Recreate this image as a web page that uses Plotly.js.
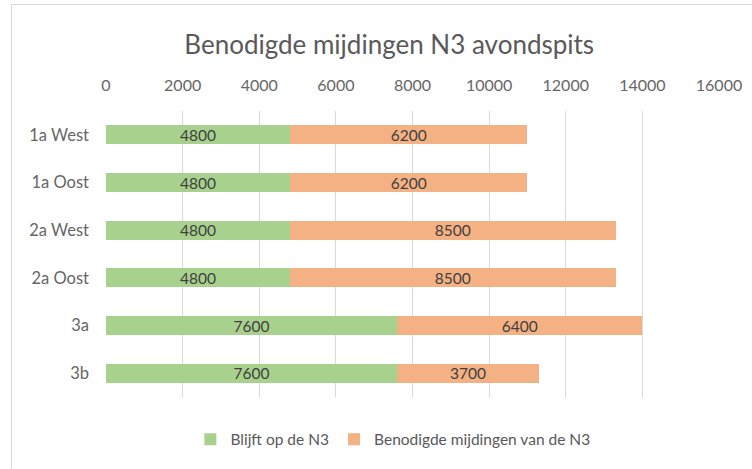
<!DOCTYPE html>
<html>
<head>
<meta charset="utf-8">
<script src="https://cdn.plot.ly/plotly-3.0.1.min.js"></script>
<style>
html,body{margin:0;padding:0;background:#fff;overflow:hidden;}
#frame{position:absolute;left:11px;top:4px;width:800px;height:520px;border-left:1px solid #d9d9d9;border-top:1px solid #d9d9d9;pointer-events:none;}
#chart{position:absolute;left:0;top:0;width:752px;height:469px;}
</style>
</head>
<body>
<div id="chart"></div>
<div id="frame"></div>
<script>
const categories = ["1a West", "1a Oost", "2a West", "2a Oost", "3a", "3b"];
const blijft = [4800, 4800, 4800, 4800, 7600, 7600];
const benodigd = [6200, 6200, 8500, 8500, 6400, 3700];
const seriesNames = ["Blijft op de N3", "Benodigde mijdingen van de N3"];
const tickVals = [0, 2000, 4000, 6000, 8000, 10000, 12000, 14000, 16000];

const fontFam = "Lato, 'Open Sans', sans-serif";
const traces = [
  {
    type: "bar", orientation: "h", name: seriesNames[0],
    y: categories, x: blijft,
    marker: {color: "#A9D18E"},
    text: blijft.map(String), textposition: "inside", insidetextanchor: "middle",
    constraintext: "none", cliponaxis: false,
    textfont: {family: fontFam, size: 15.5, color: "#404040"},
    hoverinfo: "x+y"
  },
  {
    type: "bar", orientation: "h", name: seriesNames[1],
    y: categories, x: benodigd,
    marker: {color: "#F4B183"},
    text: benodigd.map(String), textposition: "inside", insidetextanchor: "middle",
    constraintext: "none", cliponaxis: false,
    textfont: {family: fontFam, size: 15.5, color: "#404040"},
    hoverinfo: "x+y"
  }
];

const layout = {
  width: 752, height: 469,
  paper_bgcolor: "#fff", plot_bgcolor: "#fff",
  barmode: "stack", bargap: 0.6,
  uniformtext: {mode: "show", minsize: 15},
  margin: {l: 106, r: 33, t: 111, b: 70},
  font: {family: fontFam, color: "#595959", size: 15},
  title: {text: "Benodigde mijdingen N3 avondspits", x: 0.462, xref: "paper", xanchor: "center", y: 0.905, yanchor: "middle",
          font: {family: fontFam, size: 26, color: "#595959"}},
  xaxis: {
    side: "top", range: [0, 16000], tickvals: tickVals, ticktext: tickVals.map(String),
    showgrid: true, gridcolor: "#d9d9d9", gridwidth: 1, zeroline: false,
    showline: false, ticks: "", ticklabelstandoff: 16,
    tickfont: {family: fontFam, size: 16, color: "#666666"}, fixedrange: true
  },
  yaxis: {
    autorange: "reversed", showgrid: false, zeroline: false, showline: false,
    ticks: "", ticklabelstandoff: 16,
    tickfont: {family: fontFam, size: 16.5, color: "#666666"}, fixedrange: true
  },
  showlegend: true,
  legend: {orientation: "h", x: 0.468, xanchor: "center", y: -0.09, yanchor: "top",
           font: {family: fontFam, size: 15.5, color: "#595959"}, traceorder: "normal"}
};

Plotly.newPlot("chart", traces, layout, {displayModeBar: false, staticPlot: true});
</script>
</body>
</html>
